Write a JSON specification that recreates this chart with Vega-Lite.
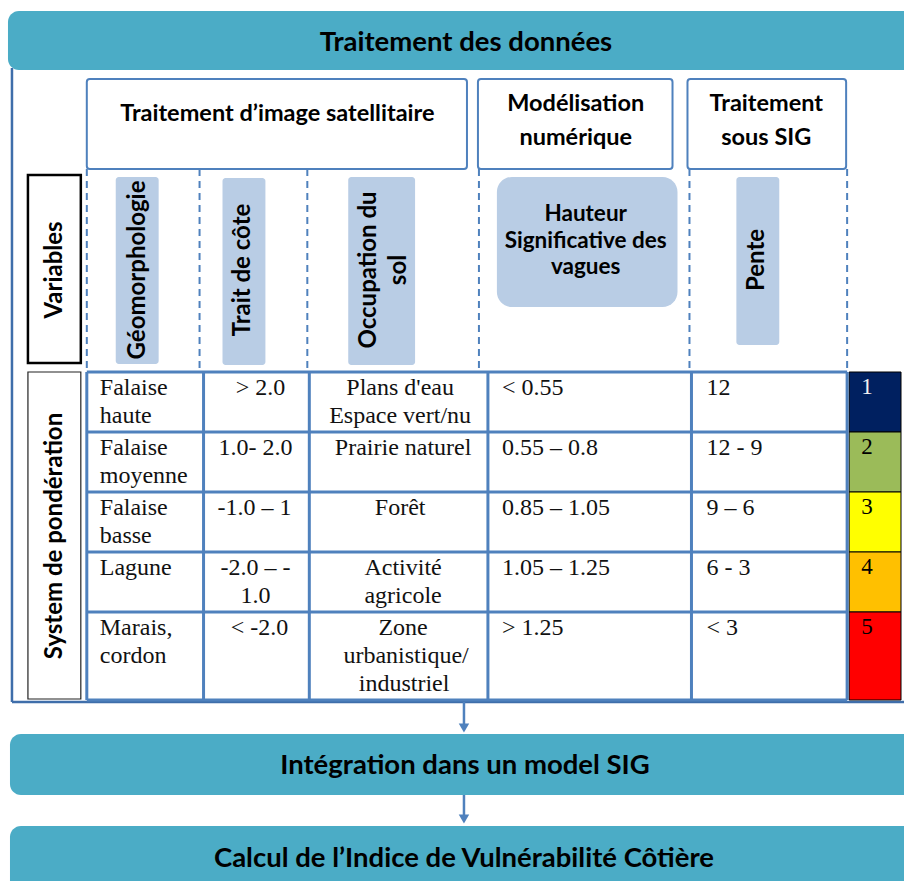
{
 "$schema": "https://vega.github.io/schema/vega-lite/v6.json",
 "width": 906, "height": 881,
 "autosize": {"type": "fit", "contains": "padding"},
 "padding": 0,
 "background": "white",
 "config": {"view": {"stroke": null}},
 "datasets": {
  "banners": [
   {"x": 8, "x2": 930, "y": 11, "y2": 70},
   {"x": 10, "x2": 930, "y": 734, "y2": 795},
   {"x": 10, "x2": 930, "y": 826, "y2": 910}
  ],
  "bannerText": [
   {"label": "Traitement des données", "x": 467, "y": 43},
   {"label": "Intégration dans un model SIG", "x": 466, "y": 766},
   {"label": "Calcul de l’Indice de Vulnérabilité Côtière", "x": 465, "y": 859}
  ],
  "frame": [
   {"x": 12, "x2": 12, "y": 68, "y2": 702},
   {"x": 12, "x2": 906, "y": 702, "y2": 702}
  ],
  "headers": [
   {"x": 87, "x2": 468, "y": 79, "y2": 169},
   {"x": 479, "x2": 674, "y": 79, "y2": 169},
   {"x": 689, "x2": 848, "y": 79, "y2": 169}
  ],
  "headerText": [
   {"label": "Traitement d’image satellitaire", "x": 278, "y": 114},
   {"label": "Modélisation", "x": 577, "y": 104},
   {"label": "numérique", "x": 577, "y": 138},
   {"label": "Traitement", "x": 768, "y": 104},
   {"label": "sous SIG", "x": 768, "y": 138}
  ],
  "dashes": [
   {"x": 87, "y": 169, "y2": 370},
   {"x": 200, "y": 169, "y2": 370},
   {"x": 308, "y": 169, "y2": 370},
   {"x": 480, "y": 169, "y2": 370},
   {"x": 691, "y": 169, "y2": 370},
   {"x": 849, "y": 169, "y2": 370}
  ],
  "varBoxes": [
   {"name": "Géomorphologie", "x": 116, "x2": 159, "y": 177, "y2": 364},
   {"name": "Trait de côte", "x": 223, "x2": 266, "y": 178, "y2": 365},
   {"name": "Occupation du sol", "x": 349, "x2": 416, "y": 177, "y2": 365},
   {"name": "Pente", "x": 738, "x2": 781, "y": 177, "y2": 345}
  ],
  "waveBox": [
   {"name": "Hauteur Significative des vagues", "x": 498, "x2": 679, "y": 177, "y2": 307}
  ],
  "sideBoxes": [
   {"name": "Variables", "x": 28, "x2": 81, "y": 175, "y2": 363, "w": 2},
   {"name": "System de pondération", "x": 28, "x2": 81, "y": 372, "y2": 699, "w": 1}
  ],
  "rotText": [
   {"label": "Variables", "x": 55, "y": 270},
   {"label": "System de pondération", "x": 55, "y": 536},
   {"label": "Géomorphologie", "x": 138, "y": 270},
   {"label": "Trait de côte", "x": 244, "y": 270},
   {"label": "Occupation du", "x": 370, "y": 270},
   {"label": "sol", "x": 400, "y": 270},
   {"label": "Pente", "x": 759, "y": 260}
  ],
  "waveText": [
   {"label": "Hauteur", "x": 587, "y": 214},
   {"label": "Significative des", "x": 587, "y": 241},
   {"label": "vagues", "x": 587, "y": 267}
  ],
  "levels": [
   {"level": 1, "x": 851, "x2": 903, "y": 372, "y2": 432, "ty": 387},
   {"level": 2, "x": 851, "x2": 903, "y": 432, "y2": 492, "ty": 447},
   {"level": 3, "x": 851, "x2": 903, "y": 492, "y2": 552, "ty": 507},
   {"level": 4, "x": 851, "x2": 903, "y": 552, "y2": 612, "ty": 567},
   {"level": 5, "x": 851, "x2": 903, "y": 612, "y2": 700, "ty": 627}
  ],
  "hGrid": [
   {"x": 87, "x2": 849, "y": 372},
   {"x": 87, "x2": 849, "y": 432},
   {"x": 87, "x2": 849, "y": 492},
   {"x": 87, "x2": 849, "y": 552},
   {"x": 87, "x2": 849, "y": 612},
   {"x": 87, "x2": 849, "y": 700}
  ],
  "vGrid": [
   {"x": 87, "y": 372, "y2": 700},
   {"x": 204, "y": 372, "y2": 700},
   {"x": 310, "y": 372, "y2": 700},
   {"x": 489, "y": 372, "y2": 700},
   {"x": 693, "y": 372, "y2": 700},
   {"x": 849, "y": 372, "y2": 700}
  ],
  "cells": [
   {"col": 1, "label": "Falaise", "x": 100, "y": 395},
   {"col": 1, "label": "haute", "x": 100, "y": 423},
   {"col": 1, "label": "Falaise", "x": 100, "y": 455},
   {"col": 1, "label": "moyenne", "x": 100, "y": 483},
   {"col": 1, "label": "Falaise", "x": 100, "y": 515},
   {"col": 1, "label": "basse", "x": 100, "y": 543},
   {"col": 1, "label": "Lagune", "x": 100, "y": 575},
   {"col": 1, "label": "Marais,", "x": 100, "y": 635},
   {"col": 1, "label": "cordon", "x": 100, "y": 663},
   {"col": 2, "label": "> 2.0", "x": 261, "y": 395},
   {"col": 2, "label": "1.0- 2.0", "x": 256, "y": 455},
   {"col": 2, "label": "-1.0 – 1", "x": 255, "y": 515},
   {"col": 2, "label": "-2.0 – -", "x": 256, "y": 575},
   {"col": 2, "label": "1.0", "x": 256, "y": 603},
   {"col": 2, "label": "< -2.0", "x": 260, "y": 635},
   {"col": 3, "label": "Plans d'eau", "x": 401, "y": 395},
   {"col": 3, "label": "Espace vert/nu", "x": 401, "y": 423},
   {"col": 3, "label": "Prairie naturel", "x": 404, "y": 455},
   {"col": 3, "label": "Forêt", "x": 401, "y": 515},
   {"col": 3, "label": "Activité", "x": 404, "y": 575},
   {"col": 3, "label": "agricole", "x": 404, "y": 603},
   {"col": 3, "label": "Zone", "x": 404, "y": 635},
   {"col": 3, "label": "urbanistique/", "x": 407, "y": 663},
   {"col": 3, "label": "industriel", "x": 405, "y": 691},
   {"col": 4, "label": "< 0.55", "x": 503, "y": 395},
   {"col": 4, "label": "0.55 – 0.8", "x": 503, "y": 455},
   {"col": 4, "label": "0.85 – 1.05", "x": 503, "y": 515},
   {"col": 4, "label": "1.05 – 1.25", "x": 503, "y": 575},
   {"col": 4, "label": "> 1.25", "x": 503, "y": 635},
   {"col": 5, "label": "12", "x": 708, "y": 395},
   {"col": 5, "label": "12 - 9", "x": 708, "y": 455},
   {"col": 5, "label": "9 – 6", "x": 708, "y": 515},
   {"col": 5, "label": "6 - 3", "x": 708, "y": 575},
   {"col": 5, "label": "< 3", "x": 708, "y": 635}
  ],
  "arrows": [
   {"x": 465, "y": 702, "y2": 724, "hy": 728},
   {"x": 465, "y": 795, "y2": 815, "hy": 819}
  ]
 },
 "layer": [
  {
   "data": {"name": "banners"},
   "mark": {"type": "rect", "fill": "#4BACC6", "cornerRadius": 11, "clip": true},
   "encoding": {
    "x": {"field": "x", "type": "quantitative", "scale": {"domain": [0, 906], "nice": false, "zero": false}, "axis": null},
    "x2": {"field": "x2"},
    "y": {"field": "y", "type": "quantitative", "scale": {"domain": [0, 881], "nice": false, "zero": false, "reverse": true}, "axis": null},
    "y2": {"field": "y2"}
   }
  },
  {
   "data": {"name": "bannerText"},
   "mark": {"type": "text", "font": "Lato", "fontWeight": "bold", "fontSize": 27.5, "align": "center", "baseline": "middle", "color": "black"},
   "encoding": {
    "x": {"field": "x", "type": "quantitative"},
    "y": {"field": "y", "type": "quantitative"},
    "text": {"field": "label"}
   }
  },
  {
   "data": {"name": "frame"},
   "mark": {"type": "rule", "color": "#3F6EAA", "strokeWidth": 2.5},
   "encoding": {
    "x": {"field": "x", "type": "quantitative"},
    "x2": {"field": "x2"},
    "y": {"field": "y", "type": "quantitative"},
    "y2": {"field": "y2"}
   }
  },
  {
   "data": {"name": "headers"},
   "mark": {"type": "rect", "fill": "white", "stroke": "#4F81BD", "strokeWidth": 2, "cornerRadius": 3},
   "encoding": {
    "x": {"field": "x", "type": "quantitative"},
    "x2": {"field": "x2"},
    "y": {"field": "y", "type": "quantitative"},
    "y2": {"field": "y2"}
   }
  },
  {
   "data": {"name": "headerText"},
   "mark": {"type": "text", "font": "Lato", "fontWeight": "bold", "fontSize": 23.5, "align": "center", "baseline": "middle", "color": "black"},
   "encoding": {
    "x": {"field": "x", "type": "quantitative"},
    "y": {"field": "y", "type": "quantitative"},
    "text": {"field": "label"}
   }
  },
  {
   "data": {"name": "dashes"},
   "mark": {"type": "rule", "color": "#4F81BD", "strokeWidth": 2, "strokeDash": [7, 5]},
   "encoding": {
    "x": {"field": "x", "type": "quantitative"},
    "y": {"field": "y", "type": "quantitative"},
    "y2": {"field": "y2"}
   }
  },
  {
   "data": {"name": "varBoxes"},
   "mark": {"type": "rect", "fill": "#B9CDE5", "cornerRadius": 3},
   "encoding": {
    "x": {"field": "x", "type": "quantitative"},
    "x2": {"field": "x2"},
    "y": {"field": "y", "type": "quantitative"},
    "y2": {"field": "y2"}
   }
  },
  {
   "data": {"name": "waveBox"},
   "mark": {"type": "rect", "fill": "#B9CDE5", "cornerRadius": 15},
   "encoding": {
    "x": {"field": "x", "type": "quantitative"},
    "x2": {"field": "x2"},
    "y": {"field": "y", "type": "quantitative"},
    "y2": {"field": "y2"}
   }
  },
  {
   "data": {"name": "sideBoxes"},
   "transform": [{"filter": "datum.w == 2"}],
   "mark": {"type": "rect", "fill": "white", "stroke": "black", "strokeWidth": 2.5},
   "encoding": {
    "x": {"field": "x", "type": "quantitative"},
    "x2": {"field": "x2"},
    "y": {"field": "y", "type": "quantitative"},
    "y2": {"field": "y2"}
   }
  },
  {
   "data": {"name": "sideBoxes"},
   "transform": [{"filter": "datum.w == 1"}],
   "mark": {"type": "rect", "fill": "white", "stroke": "#222222", "strokeWidth": 1.2},
   "encoding": {
    "x": {"field": "x", "type": "quantitative"},
    "x2": {"field": "x2"},
    "y": {"field": "y", "type": "quantitative"},
    "y2": {"field": "y2"}
   }
  },
  {
   "data": {"name": "rotText"},
   "mark": {"type": "text", "font": "Lato", "fontWeight": "bold", "fontSize": 24, "angle": 270, "align": "center", "baseline": "middle", "color": "black"},
   "encoding": {
    "x": {"field": "x", "type": "quantitative"},
    "y": {"field": "y", "type": "quantitative"},
    "text": {"field": "label"}
   }
  },
  {
   "data": {"name": "waveText"},
   "mark": {"type": "text", "font": "Lato", "fontWeight": "bold", "fontSize": 22.5, "align": "center", "baseline": "middle", "color": "black"},
   "encoding": {
    "x": {"field": "x", "type": "quantitative"},
    "y": {"field": "y", "type": "quantitative"},
    "text": {"field": "label"}
   }
  },
  {
   "data": {"name": "levels"},
   "mark": {"type": "rect", "stroke": "black", "strokeWidth": 1},
   "encoding": {
    "x": {"field": "x", "type": "quantitative"},
    "x2": {"field": "x2"},
    "y": {"field": "y", "type": "quantitative"},
    "y2": {"field": "y2"},
    "fill": {"field": "level", "type": "ordinal", "legend": null, "scale": {"domain": [1, 2, 3, 4, 5], "range": ["#002060", "#9BBB59", "#FFFF00", "#FFC000", "#FF0000"]}}
   }
  },
  {
   "data": {"name": "hGrid"},
   "mark": {"type": "rule", "color": "#4F81BD", "strokeWidth": 3},
   "encoding": {
    "x": {"field": "x", "type": "quantitative"},
    "x2": {"field": "x2"},
    "y": {"field": "y", "type": "quantitative"}
   }
  },
  {
   "data": {"name": "vGrid"},
   "mark": {"type": "rule", "color": "#4F81BD", "strokeWidth": 3},
   "encoding": {
    "x": {"field": "x", "type": "quantitative"},
    "y": {"field": "y", "type": "quantitative"},
    "y2": {"field": "y2"}
   }
  },
  {
   "data": {"name": "levels"},
   "mark": {"type": "text", "font": "Liberation Serif", "fontSize": 23, "align": "center", "baseline": "middle"},
   "encoding": {
    "x": {"datum": 869, "type": "quantitative"},
    "y": {"field": "ty", "type": "quantitative"},
    "text": {"field": "level"},
    "color": {"condition": {"test": "datum.level == 1", "value": "#F2F2F2"}, "value": "black"}
   }
  },
  {
   "data": {"name": "cells"},
   "transform": [{"filter": "datum.col == 1 || datum.col == 4 || datum.col == 5"}],
   "mark": {"type": "text", "font": "Liberation Serif", "fontSize": 24, "align": "left", "baseline": "alphabetic", "color": "#111111"},
   "encoding": {
    "x": {"field": "x", "type": "quantitative"},
    "y": {"field": "y", "type": "quantitative"},
    "text": {"field": "label"}
   }
  },
  {
   "data": {"name": "cells"},
   "transform": [{"filter": "datum.col == 2 || datum.col == 3"}],
   "mark": {"type": "text", "font": "Liberation Serif", "fontSize": 24, "align": "center", "baseline": "alphabetic", "color": "#111111"},
   "encoding": {
    "x": {"field": "x", "type": "quantitative"},
    "y": {"field": "y", "type": "quantitative"},
    "text": {"field": "label"}
   }
  },
  {
   "data": {"name": "arrows"},
   "mark": {"type": "rule", "color": "#4F81BD", "strokeWidth": 2.5},
   "encoding": {
    "x": {"field": "x", "type": "quantitative"},
    "y": {"field": "y", "type": "quantitative"},
    "y2": {"field": "y2"}
   }
  },
  {
   "data": {"name": "arrows"},
   "mark": {"type": "point", "shape": "triangle-down", "filled": true, "color": "#4F81BD", "size": 110, "opacity": 1},
   "encoding": {
    "x": {"field": "x", "type": "quantitative"},
    "y": {"field": "hy", "type": "quantitative"}
   }
  }
 ]
}
